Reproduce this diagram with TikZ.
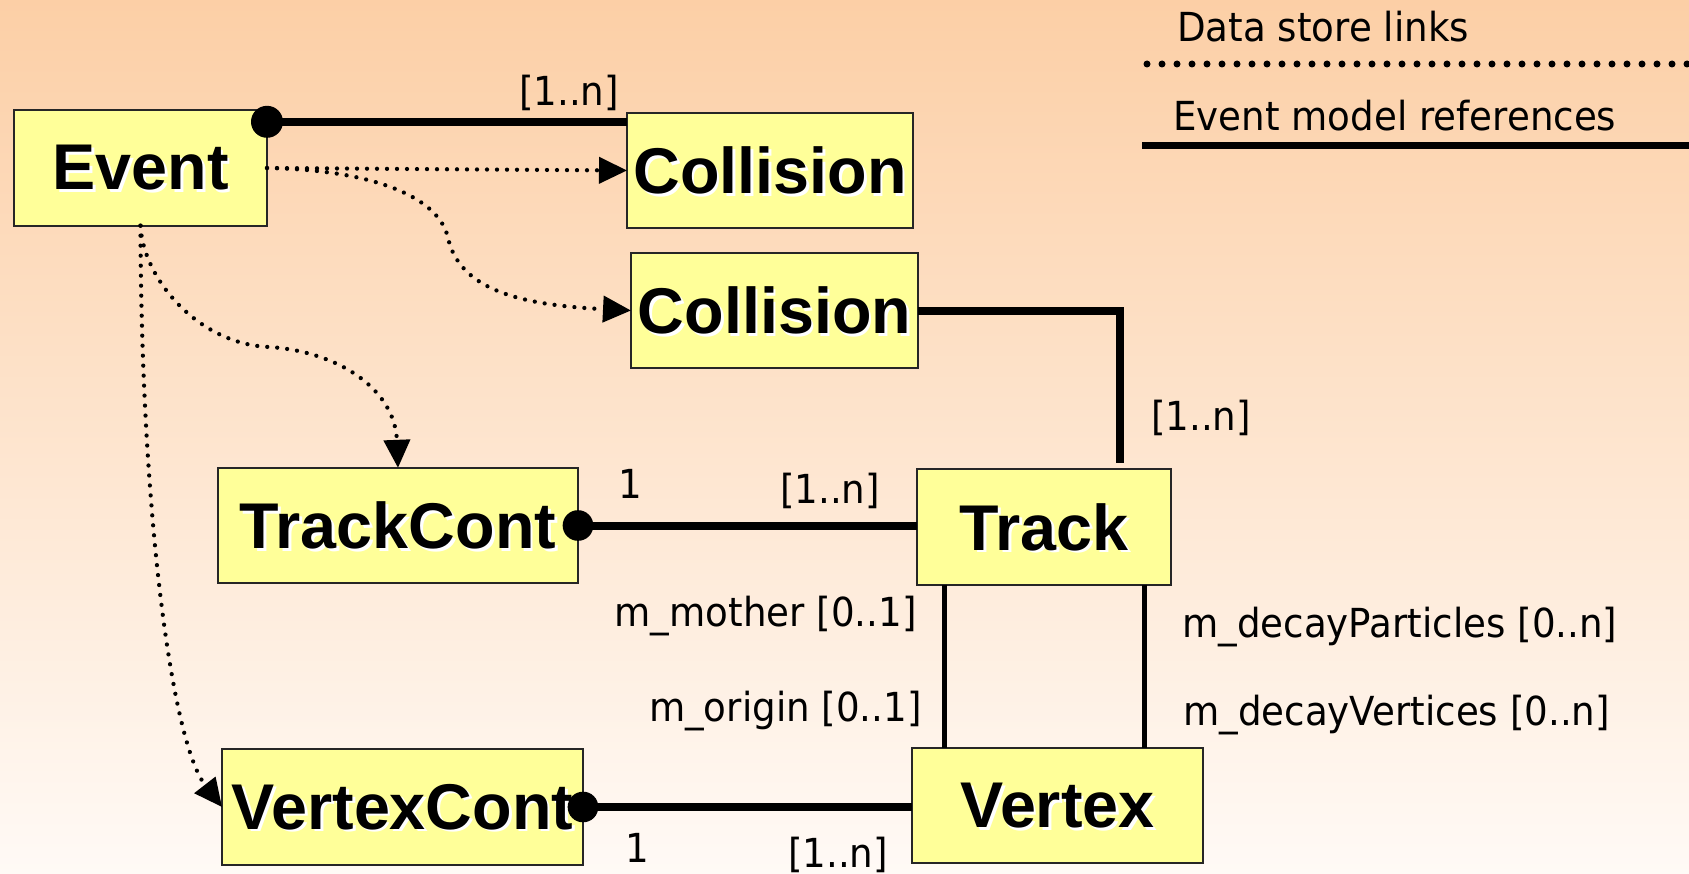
\documentclass[tikz,border=0pt]{standalone}
\usepackage{fontspec}
\setmainfont{Liberation Sans}
\newfontfamily\lblfont[FakeStretch=0.93]{DejaVu Sans}
\usetikzlibrary{arrows.meta,calc}

\definecolor{bgtop}{RGB}{252,207,166}
\definecolor{bgbot}{RGB}{255,250,246}
\definecolor{boxfill}{RGB}{255,255,153}

% bold class name with a white drop shadow
\newcommand\shadowed[1]{\rlap{\hspace*{2pt}\smash{\raisebox{-2pt}{\color{white}#1}}}#1}

\begin{document}
\begin{tikzpicture}[x=0.75pt,y=-0.75pt,
  cls/.style={draw=black!85, line width=1.5pt, fill=boxfill, inner sep=0pt,
    outer sep=0pt, minimum height=86.5pt,
    font=\fontsize{48.5}{52}\bfseries\selectfont},
  lbl/.style={inner sep=0pt, font=\lblfont\fontsize{30}{34}\selectfont},
  ref/.style={line width=6pt},
  assoc/.style={line width=3.75pt},
  link/.style={line width=3.2pt, line cap=round, dash pattern=on 0pt off 7.5pt,
    -{Triangle[length=21pt,width=19.5pt]}},
  owner/.style={fill=black},
]
\useasboundingbox (0,0) rectangle (1689,874);
\shade[top color=bgtop, bottom color=bgbot] (0,0) rectangle (1689,874);

% classes
\node[cls, minimum width=189.75pt] (event)      at (140.5,168)  {\shadowed{Event}};
\node[cls, minimum width=214.5pt]  (coll1)      at (770,170.5)  {\shadowed{Collision}};
\node[cls, minimum width=215.25pt] (coll2)      at (774.5,310.5){\shadowed{Collision}};
\node[cls, minimum width=270pt]    (trackcont)  at (398,525.5)  {\shadowed{TrackCont}};
\node[cls, minimum width=190.5pt]  (track)      at (1044,527)   {\shadowed{Track}};
\node[cls, minimum width=270.75pt] (vertexcont) at (402.5,807)  {\shadowed{VertexCont}};
\node[cls, minimum width=218.25pt] (vertex)     at (1057.5,805.5){\shadowed{Vertex}};

% data store links
\draw[link] (event.east) -- (coll1.west);
\draw[link] (event.east) .. controls (380,170) and (440,200) .. (448,238)
  .. controls (460,290) and (520,305) .. (coll2.west);
\draw[link] (event.south) .. controls (143,280) and (200,345) .. (270,347)
  .. controls (340,352) and (395,390) .. (trackcont.north);
\draw[link] (event.south) .. controls (141,500) and (170,740) .. (vertexcont.west);

% event model references
\draw[ref] ([yshift=-8.6pt]event.north east) coordinate (o1) -- (o1 -| coll1.west);
\fill[owner] (o1) circle[radius=12pt];
\node[lbl, anchor=base] (m1) at (569,105) {[1..n]};

\draw[ref] (coll2.east) -| ([shift={(57pt,4.5pt)}]track.north);
\node[lbl, anchor=base] (m2) at (1201,430) {[1..n]};

\draw[ref] (trackcont.east) coordinate (o2) -- (o2 -| track.west);
\fill[owner] (o2) circle[radius=11.5pt];
\node[lbl, anchor=base] (m3) at (630,498) {1};
\node[lbl, anchor=base] (m4) at (830,503) {[1..n]};

\draw[ref] (vertexcont.east) coordinate (o3) -- (o3 -| vertex.west);
\fill[owner] (o3) circle[radius=11.5pt];
\node[lbl, anchor=base] (m5) at (637,862) {1};
\node[lbl, anchor=base] (m6) at (838,867) {[1..n]};

% track / vertex associations
\draw[assoc] ([xshift=20.25pt]track.south west) coordinate (a1) -- (a1 |- vertex.north);
\draw[assoc] ([xshift=-20.25pt]track.south east) coordinate (a2) -- (a2 |- vertex.north);
\node[lbl, anchor=base east] (r1) at (917,626) {m\_mother [0..1]};
\node[lbl, anchor=base east] (r2) at (922,721) {m\_origin [0..1]};
\node[lbl, anchor=base west] (r3) at (1182,637) {m\_decayParticles [0..n]};
\node[lbl, anchor=base west] (r4) at (1183,725) {m\_decayVertices [0..n]};

% legend
\node[lbl, anchor=base west] (legdata) at (1177,42) {Data store links};
\coordinate (ld0) at (1147,64);
\coordinate (ld1) at (1689,64);
\draw[line width=5.25pt, line cap=round, dash pattern=on 0pt off 11.25pt] (ld0) -- (ld1);
\node[lbl, anchor=base west] (legref) at (1173,130) {Event model references};
\coordinate (lr0) at (1142,145.5);
\coordinate (lr1) at (1689,145.5);
\draw[line width=5.25pt] (lr0) -- (lr1);
\end{tikzpicture}
\end{document}
